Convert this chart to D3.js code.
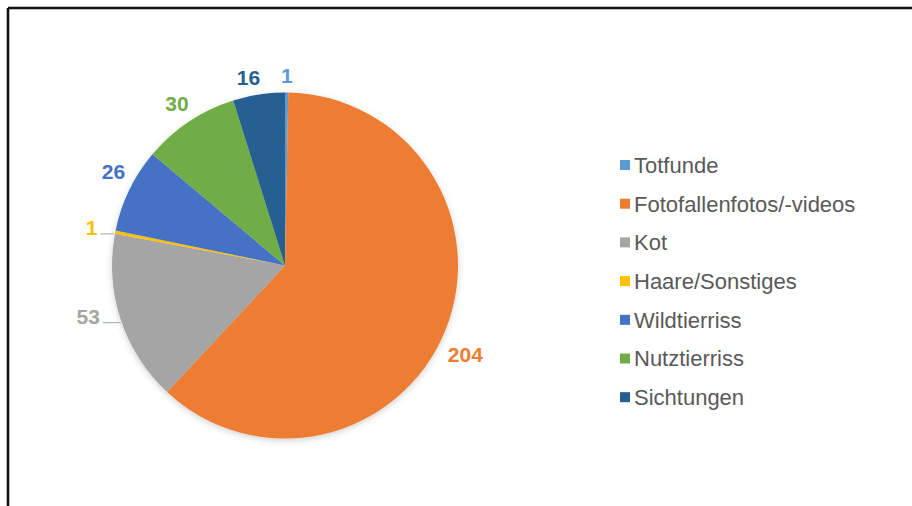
<!DOCTYPE html>
<html><head><meta charset="utf-8">
<script src="https://cdn.jsdelivr.net/npm/d3@7"></script>
<style>html,body{margin:0;padding:0;background:#fff;}svg{display:block;}</style>
</head><body>
<svg id="chart" width="912" height="506"></svg>
<script>
const categories = ["Totfunde","Fotofallenfotos/-videos","Kot","Haare/Sonstiges","Wildtierriss","Nutztierriss","Sichtungen"];
const values = [1,204,53,1,26,30,16];
const colors = ["#5B9BD5","#ED7D31","#A5A5A5","#FFC000","#4472C4","#70AD47","#255E91"];
const leaderLabels = ["Kot","Haare/Sonstiges"];
// label placement tweaks (degrees around the slice middle), like the "best fit" placement
const labelAngleNudge = [0, 4.2, 3.8, 0, 3, 0, -2.3];

const svg = d3.select("#chart");
const W = 912, H = 506;
const cx = 285, cy = 265.5, R = 173;

// frame (top and left edges visible)
svg.append("line").attr("x1",8).attr("y1",8).attr("x2",W).attr("y2",8).attr("stroke","#111").attr("stroke-width",2.6);
svg.append("line").attr("x1",8).attr("y1",8).attr("x2",8).attr("y2",H).attr("stroke","#111").attr("stroke-width",2.6);

const defs = svg.append("defs");
const f = defs.append("filter").attr("id","sh").attr("x","-20%").attr("y","-20%").attr("width","140%").attr("height","140%");
f.append("feDropShadow").attr("dx",0).attr("dy",2).attr("stdDeviation",3).attr("flood-color","#000").attr("flood-opacity",0.18);

const data = categories.map((c,i)=>({cat:c, value:values[i], color:colors[i], nudge:labelAngleNudge[i]}));
const pie = d3.pie().value(d=>d.value).sort(null);
const arcs = pie(data);
const arc = d3.arc().innerRadius(0).outerRadius(R);

const g = svg.append("g").attr("transform",`translate(${cx},${cy})`);
const pg = g.append("g").attr("filter","url(#sh)");
pg.selectAll("path").data(arcs).join("path")
  .attr("d",arc).attr("fill",d=>d.data.color);

// labels
const fs = 21;
const lg = g.append("g").attr("font-family","'Liberation Sans', Arial, sans-serif")
  .attr("font-weight","bold").attr("font-size",fs);
arcs.forEach(a=>{
  const mid = (a.startAngle+a.endAngle)/2 + a.data.nudge*Math.PI/180;
  const s = Math.sin(mid), c = -Math.cos(mid);
  const isLeader = leaderLabels.includes(a.data.cat);
  const t = lg.append("text").text(a.data.value).attr("fill",a.data.color)
    .attr("text-anchor","middle");
  const w = t.node().getComputedTextLength();
  const h = fs*0.72;
  const gap = isLeader ? 17 : 9;
  const d = R + gap + Math.abs(s)*w/2 + Math.abs(c)*h/2;
  const x = s*d, y = c*d;
  t.attr("x",x).attr("y",y + h/2);
  if(isLeader){
    const lx1 = x + w/2 + 3;
    const ly = y + h/2 - 1;
    const edgeX = -Math.sqrt(Math.max(0,R*R - ly*ly));
    g.append("line").attr("x1",lx1).attr("y1",ly).attr("x2",edgeX-1).attr("y2",ly)
      .attr("stroke","#A6A6A6").attr("stroke-width",1);
  }
});

// legend
const legX = 620, legY0 = 165, legStep = 38.7;
const leg = svg.append("g").attr("font-family","'Liberation Sans', Arial, sans-serif").attr("font-size",22);
categories.forEach((c,i)=>{
  const y = legY0 + i*legStep;
  leg.append("rect").attr("x",legX).attr("y",y-5).attr("width",10).attr("height",10).attr("fill",colors[i]);
  leg.append("text").attr("x",legX+14).attr("y",y+7.8).attr("fill","#595959").text(c);
});
</script>
</body></html>
